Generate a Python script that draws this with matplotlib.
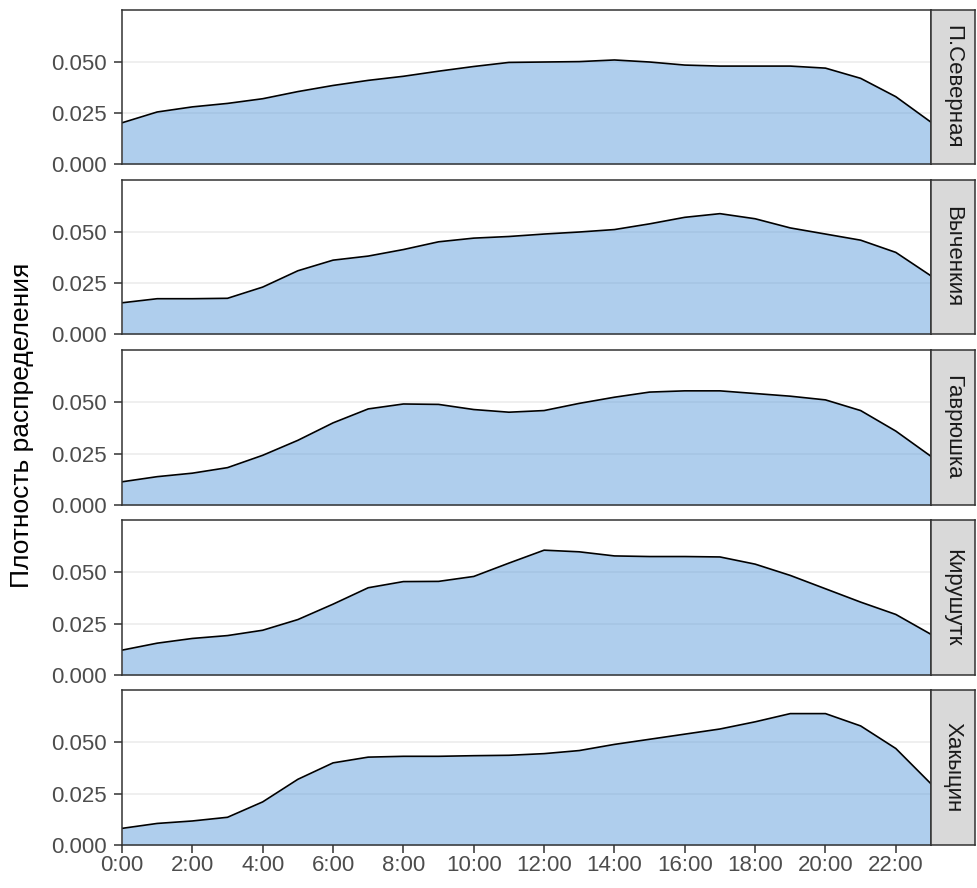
import matplotlib
matplotlib.use("Agg")
import matplotlib.pyplot as plt

plt.rcParams['font.family'] = ['Liberation Sans', 'DejaVu Sans']

hours = list(range(24))
hour_ticks = [0, 2, 4, 6, 8, 10, 12, 14, 16, 18, 20, 22]
hour_labels = ["0:00", "2:00", "4:00", "6:00", "8:00", "10:00", "12:00",
               "14:00", "16:00", "18:00", "20:00", "22:00"]
y_ticks = [0.0, 0.025, 0.05]
y_labels = ["0.000", "0.025", "0.050"]

facets = ["П.Северная", "Выченкия", "Гаврюшка", "Кирушутк", "Хакыцин"]

dens_severnaya = [0.0202, 0.0255, 0.0280, 0.0297, 0.0320, 0.0355, 0.0385, 0.0410,
                  0.0430, 0.0455, 0.0478, 0.0498, 0.0500, 0.0502, 0.0510, 0.0500,
                  0.0485, 0.0480, 0.0480, 0.0480, 0.0470, 0.0420, 0.0330, 0.0205]
dens_vychenkiya = [0.0153, 0.0173, 0.0173, 0.0175, 0.0230, 0.0310, 0.0362, 0.0382,
                   0.0414, 0.0452, 0.0470, 0.0478, 0.0490, 0.0500, 0.0512, 0.0540,
                   0.0572, 0.0590, 0.0565, 0.0520, 0.0490, 0.0460, 0.0400, 0.0285]
dens_gavryushka = [0.0113, 0.0138, 0.0155, 0.0182, 0.0242, 0.0315, 0.0400, 0.0468,
                   0.0492, 0.0490, 0.0465, 0.0452, 0.0460, 0.0495, 0.0525, 0.0550,
                   0.0556, 0.0556, 0.0543, 0.0530, 0.0512, 0.0460, 0.0360, 0.0237]
dens_kirushutk = [0.0121, 0.0155, 0.0178, 0.0192, 0.0218, 0.0270, 0.0345, 0.0425,
                  0.0455, 0.0456, 0.0480, 0.0545, 0.0608, 0.0600, 0.0580, 0.0577,
                  0.0577, 0.0575, 0.0540, 0.0485, 0.0420, 0.0355, 0.0295, 0.0198]
dens_khakytsin = [0.0081, 0.0105, 0.0117, 0.0135, 0.0210, 0.0320, 0.0400, 0.0428,
                  0.0432, 0.0432, 0.0435, 0.0437, 0.0445, 0.0460, 0.0490, 0.0515,
                  0.0540, 0.0565, 0.0600, 0.0640, 0.0640, 0.0580, 0.0470, 0.0298]

series = [dens_severnaya, dens_vychenkiya, dens_gavryushka, dens_kirushutk, dens_khakytsin]

W, H = 977, 888
fig = plt.figure(figsize=(W / 100, H / 100), dpi=100)

left, right = 122, 931
strip_w = 44
panels = [(10, 164), (180, 334), (350, 505), (520, 675), (690, 845)]

fill_col = (97 / 255, 159 / 255, 221 / 255)
border = "#333333"

for i, (name, vals, (top, bot)) in enumerate(zip(facets, series, panels)):
    ax = fig.add_axes([left / W, 1 - bot / H, (right - left) / W, (bot - top) / H])
    ax.set_xlim(0, 23)
    ax.set_ylim(0, 0.0755)
    for yv in y_ticks[1:]:
        ax.axhline(yv, color="#EBEBEB", lw=1.1, zorder=0)
    ax.fill_between(hours, vals, 0, color=fill_col, alpha=0.5, lw=0, zorder=1)
    ax.plot(hours, vals, color="black", lw=1.2, zorder=2)
    ax.set_yticks(y_ticks)
    ax.set_yticklabels(y_labels)
    ax.set_xticks(hour_ticks)
    ax.tick_params(axis="both", colors=border, labelcolor="#4D4D4D",
                   labelsize=16, length=6, width=1.1, pad=5)
    if i == len(facets) - 1:
        ax.set_xticklabels(hour_labels)
        ax.tick_params(axis="x", pad=1)
    else:
        ax.set_xticklabels([])
        ax.tick_params(axis="x", length=0)
    for sp in ax.spines.values():
        sp.set_color(border)
        sp.set_linewidth(1.1)
    sax = fig.add_axes([right / W, 1 - bot / H, strip_w / W, (bot - top) / H])
    sax.set_xticks([])
    sax.set_yticks([])
    sax.set_facecolor("#D9D9D9")
    for sp in sax.spines.values():
        sp.set_color(border)
        sp.set_linewidth(1.1)
    sax.text(0.5, 0.5, name, rotation=-90, ha="center", va="center",
             fontsize=16, color="#1A1A1A", transform=sax.transAxes)

fig.text(22 / W, 1 - 425 / H, "Плотность распределения", rotation=90,
         ha="center", va="center", fontsize=19, color="black")

fig.savefig("out.png", dpi=100, facecolor="white")
